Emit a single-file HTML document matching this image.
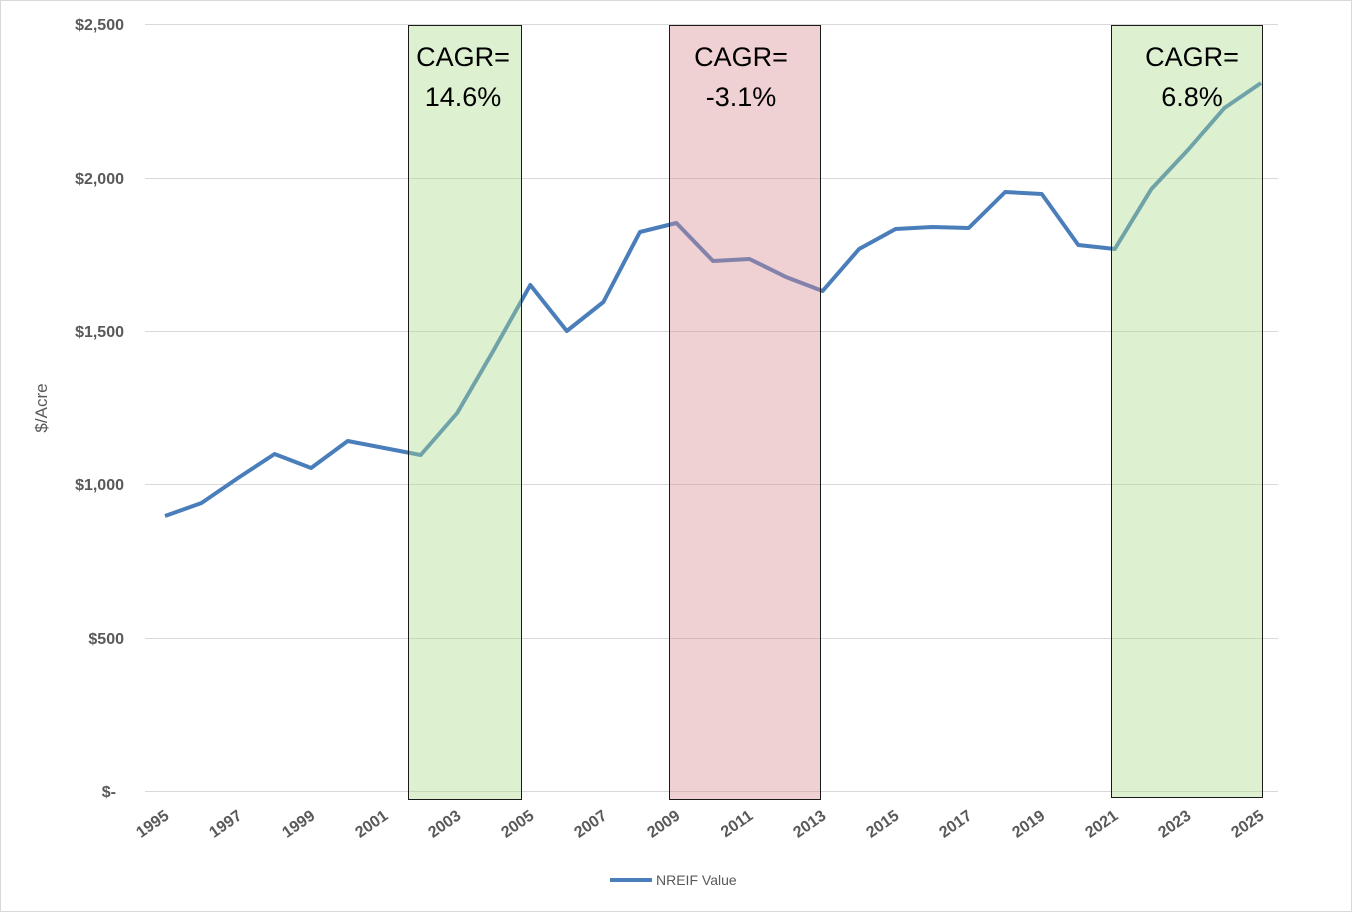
<!DOCTYPE html>
<html><head><meta charset="utf-8"><style>
html,body{margin:0;padding:0;background:#fff;}
svg{display:block;font-family:"Liberation Sans",Arial,sans-serif;}
</style></head><body>
<svg width="1352" height="912" viewBox="0 0 1352 912">
<rect x="0.5" y="0.5" width="1351" height="911" fill="#fff" stroke="#d9d9d9"/>
<g stroke="#d9d9d9" stroke-width="1">
<line x1="145" x2="1278" y1="24.5" y2="24.5"/>
<line x1="145" x2="1278" y1="178.5" y2="178.5"/>
<line x1="145" x2="1278" y1="331.5" y2="331.5"/>
<line x1="145" x2="1278" y1="484.5" y2="484.5"/>
<line x1="145" x2="1278" y1="638.5" y2="638.5"/>
<line x1="145" x2="1278" y1="791.5" y2="791.5"/>
</g>
<g font-size="16" font-weight="bold" fill="#595959" text-anchor="end">
<text x="124" y="30">$2,500</text>
<text x="124" y="184">$2,000</text>
<text x="124" y="337">$1,500</text>
<text x="124" y="490">$1,000</text>
<text x="124" y="644">$500</text>
<text x="116" y="797">$-</text>
</g>
<text transform="translate(47,408) rotate(-90)" font-size="17" fill="#595959" text-anchor="middle">$/Acre</text>
<polyline fill="none" stroke="#4a7ebb" stroke-width="4" stroke-linejoin="round" points="165,516 201.5,503 238,478 274.6,454 311.1,468 347.7,441 384.2,448 420.7,455 457.2,413 493.8,350 530.3,285 566.8,331 603.4,302 639.9,232 676.4,223 713,261 749.5,259 786,277 822.6,291 859.1,249 895.6,229 932.2,227 968.7,228 1005.2,192 1041.8,194 1078.3,245 1114.8,249 1151.4,189 1187.9,150 1224.4,108 1261,83"/>
<rect x="408.5" y="25.5" width="113" height="774" fill="rgb(170,220,140)" fill-opacity="0.4" stroke="#1a1a1a" stroke-width="1"/>
<rect x="669.5" y="25.5" width="151" height="774" fill="rgb(215,138,145)" fill-opacity="0.4" stroke="#1a1a1a" stroke-width="1"/>
<rect x="1111.5" y="25.5" width="151" height="772" fill="rgb(170,220,140)" fill-opacity="0.4" stroke="#1a1a1a" stroke-width="1"/>
<g font-size="27" fill="#000" text-anchor="middle">
<text x="463" y="66">CAGR=</text><text x="463" y="106">14.6%</text>
<text x="741" y="66">CAGR=</text><text x="741" y="106">-3.1%</text>
<text x="1192" y="66">CAGR=</text><text x="1192" y="106">6.8%</text>
</g>
<g font-size="16" font-weight="bold" fill="#595959" text-anchor="end">
<text transform="translate(170,818) rotate(-35)">1995</text>
<text transform="translate(243,818) rotate(-35)">1997</text>
<text transform="translate(316,818) rotate(-35)">1999</text>
<text transform="translate(389,818) rotate(-35)">2001</text>
<text transform="translate(462,818) rotate(-35)">2003</text>
<text transform="translate(535,818) rotate(-35)">2005</text>
<text transform="translate(608,818) rotate(-35)">2007</text>
<text transform="translate(681,818) rotate(-35)">2009</text>
<text transform="translate(754,818) rotate(-35)">2011</text>
<text transform="translate(827,818) rotate(-35)">2013</text>
<text transform="translate(900,818) rotate(-35)">2015</text>
<text transform="translate(973,818) rotate(-35)">2017</text>
<text transform="translate(1046,818) rotate(-35)">2019</text>
<text transform="translate(1119,818) rotate(-35)">2021</text>
<text transform="translate(1192,818) rotate(-35)">2023</text>
<text transform="translate(1265,818) rotate(-35)">2025</text>
</g>
<line x1="610" x2="652" y1="880" y2="880" stroke="#4a7ebb" stroke-width="4"/>
<text x="656" y="885" font-size="14" fill="#595959">NREIF Value</text>
</svg>
</body></html>
